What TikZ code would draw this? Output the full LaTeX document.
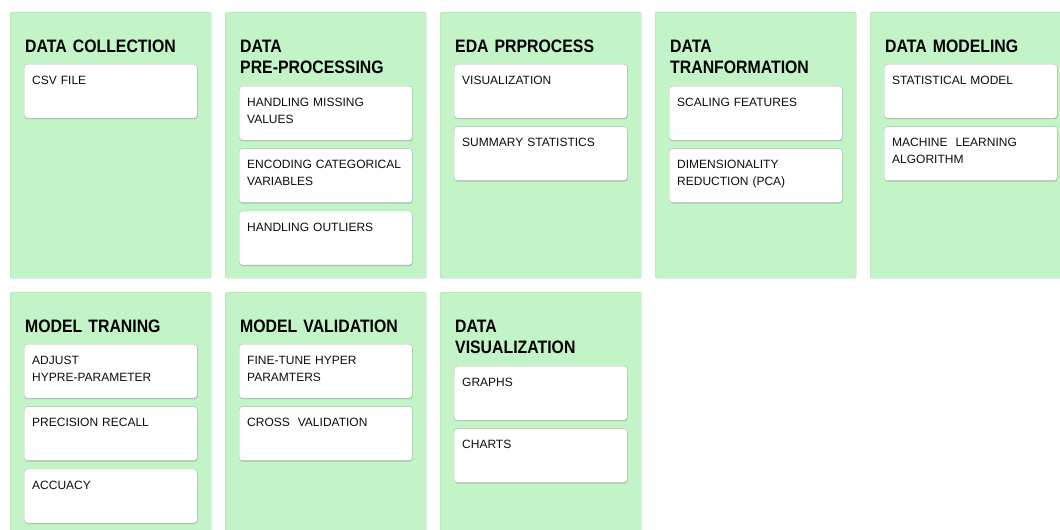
\documentclass[tikz,border=0pt]{standalone}
\usepackage{fontspec}
\setmainfont{Liberation Sans}
\newfontfamily\headfont[FakeStretch=0.88]{Liberation Sans}
\usetikzlibrary{positioning,shadows}
\definecolor{panelgreen}{RGB}{194,244,199}
\definecolor{panelline}{RGB}{176,212,179}
\definecolor{cardline}{RGB}{176,190,178}
\begin{document}
\begin{tikzpicture}[
  x=1pt, y=-1pt,
  node distance=8pt, % gap between cards
  panel/.style={draw=panelline, fill=panelgreen, rounded corners=2pt, minimum width=201pt, minimum height=266pt, anchor=north west, inner sep=0pt},
  heading/.style={anchor=base west, text width=185pt, align=left, inner sep=0pt, text=black, font=\headfont\bfseries\fontsize{18}{21}\selectfont},
  card/.style={draw=cardline, fill=white, rounded corners=3pt, drop shadow={shadow xshift=0.4pt, shadow yshift=-1pt, opacity=0.4, fill=black!55},
    text width=157pt, align=left, inner xsep=8pt, inner ysep=0pt, text height=20pt, text depth=34pt, text=black!95, font=\fontsize{12}{17}\selectfont},
  ]
\clip (0,0) rectangle (1060,530);

% Row 1
\node[panel] (p1) at (10,12) {};
\node[below right=40pt and 15pt of p1.north west, heading] (h1) {DATA COLLECTION};
\node[card, below right=52pt and 14pt of p1.north west] (c11) {CSV FILE};

\node[panel] (p2) at (225,12) {};
\node[below right=40pt and 15pt of p2.north west, heading] (h2) {DATA\\PRE-PROCESSING};
\node[card, below right=74pt and 14pt of p2.north west] (c21) {HANDLING MISSING\\VALUES};
\node[card, below=of c21] (c22) {ENCODING CATEGORICAL\\VARIABLES};
\node[card, below=of c22] (c23) {HANDLING OUTLIERS};

\node[panel] (p3) at (440,12) {};
\node[below right=40pt and 15pt of p3.north west, heading] (h3) {EDA PRPROCESS};
\node[card, below right=52pt and 14pt of p3.north west] (c31) {VISUALIZATION};
\node[card, below=of c31] (c32) {SUMMARY STATISTICS};

\node[panel] (p4) at (655,12) {};
\node[below right=40pt and 15pt of p4.north west, heading] (h4) {DATA\\TRANFORMATION};
\node[card, below right=74pt and 14pt of p4.north west] (c41) {SCALING FEATURES};
\node[card, below=of c41] (c42) {DIMENSIONALITY\\REDUCTION (PCA)};

\node[panel] (p5) at (870,12) {};
\node[below right=40pt and 15pt of p5.north west, heading] (h5) {DATA MODELING};
\node[card, below right=52pt and 14pt of p5.north west] (c51) {STATISTICAL MODEL};
\node[card, below=of c51] (c52) {MACHINE\ \ LEARNING\\ALGORITHM};

% Row 2
\node[panel] (p6) at (10,292) {};
\node[below right=40pt and 15pt of p6.north west, heading] (h6) {MODEL TRANING};
\node[card, below right=52pt and 14pt of p6.north west] (c61) {ADJUST\\HYPRE-PARAMETER};
\node[card, below=of c61] (c62) {PRECISION RECALL};
\node[card, below=of c62] (c63) {ACCUACY};

\node[panel] (p7) at (225,292) {};
\node[below right=40pt and 15pt of p7.north west, heading] (h7) {MODEL VALIDATION};
\node[card, below right=52pt and 14pt of p7.north west] (c71) {FINE-TUNE HYPER\\PARAMTERS};
\node[card, below=of c71] (c72) {CROSS\ \ VALIDATION};

\node[panel] (p8) at (440,292) {};
\node[below right=40pt and 15pt of p8.north west, heading] (h8) {DATA\\VISUALIZATION};
\node[card, below right=74pt and 14pt of p8.north west] (c81) {GRAPHS};
\node[card, below=of c81] (c82) {CHARTS};

\end{tikzpicture}
\end{document}
